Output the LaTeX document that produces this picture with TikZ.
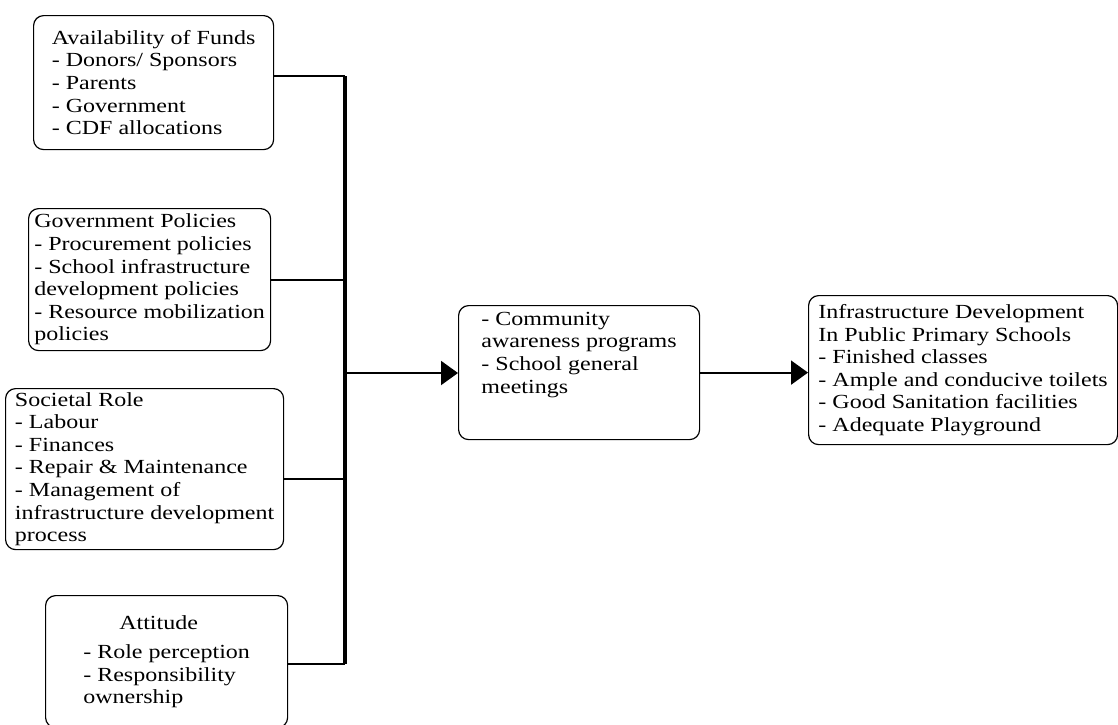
\documentclass[tikz,border=0pt]{standalone}
\usepackage{fontspec}
\setmainfont{Liberation Serif}[FakeStretch=1.2]
\usepackage{tikz}
\usetikzlibrary{calc,arrows.meta}

\begin{document}
\begin{tikzpicture}[x=0.5pt,y=-0.5pt,
		box/.style={draw,rounded corners=5pt,line width=0.6pt,align=left,inner xsep=1pt,inner ysep=0pt,anchor=north west,font=\fontsize{10pt}{11.3pt}\selectfont},
		link/.style={line width=1.3pt},
		bus/.style={line width=2pt},
		flow/.style={line width=1pt,-{Triangle[length=8.5pt,width=12pt]}}]
		\clip (0,0) rectangle (1118,724);
		
		%left boxes
		\node (funds) [box,minimum width=120pt,minimum height=67pt] at (33,15) {Availability of Funds\\- Donors/ Sponsors\\- Parents\\- Government\\- CDF allocations};
		\node (policies) [box,minimum width=121pt,minimum height=71pt] at (28,208) {Government Policies\\- Procurement policies\\- School infrastructure\\development policies\\- Resource mobilization\\policies};
		\node (society) [box,minimum width=139pt,minimum height=80.5pt] at (5,388) {Societal Role\\- Labour\\- Finances\\- Repair \& Maintenance\\- Management of\\infrastructure development\\process};
		\node (attitude) [box,minimum width=121pt,minimum height=66pt] at (45,595) {\hspace*{18pt}Attitude\\[3.5pt]- Role perception\\- Responsibility\\ownership};
		
		%middle and right boxes
		\node (awareness) [box,minimum width=120.5pt,minimum height=67pt,text depth=20pt] at (458,305) {- Community\\awareness programs\\- School general\\meetings};
		\node (outcome) [box,minimum width=154.5pt,minimum height=74.5pt] at (808,295) {Infrastructure Development\\In Public Primary Schools\\- Finished classes\\- Ample and conducive toilets\\- Good Sanitation facilities\\- Adequate Playground};
		
		%bus
		\coordinate (j1) at (345,76);
		\coordinate (j2) at (345,280);
		\coordinate (j3) at (345,479);
		\coordinate (j4) at (345,664);
		\coordinate (jm) at (345,373);
		\draw [bus] (j1) -- (j4);
		\draw [link] (funds.east |- j1) -- (j1);
		\draw [link] (policies.east |- j2) -- (j2);
		\draw [link] (society.east |- j3) -- (j3);
		\draw [link] (attitude.east |- j4) -- (j4);
		
		%arrows
		\draw [flow] (jm) -- (jm -| awareness.west);
		\draw [flow] (awareness.east) -- (awareness.east -| outcome.west);
\end{tikzpicture}
\end{document}
